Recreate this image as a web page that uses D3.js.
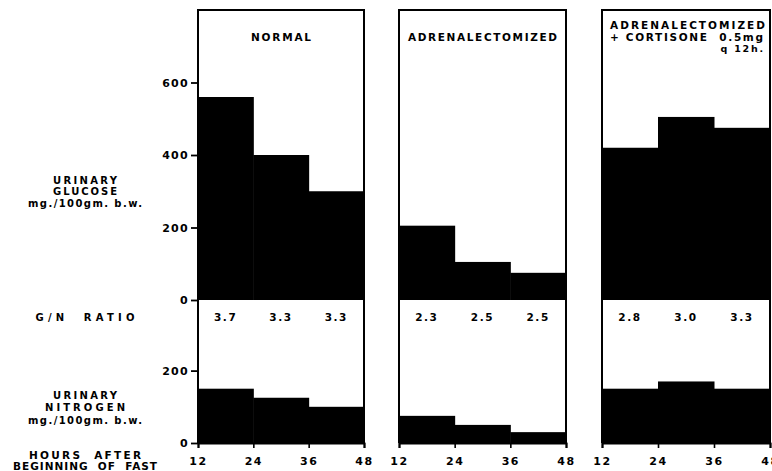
<!DOCTYPE html>
<html>
<head>
<meta charset="utf-8">
<script src="https://cdn.jsdelivr.net/npm/d3@7"></script>
<style>
  html, body { margin: 0; padding: 0; background: #fff; }
  svg text { font-family: "DejaVu Sans", "Liberation Sans", sans-serif; font-weight: bold; fill: #000; }
</style>
</head>
<body>
<svg id="chart" width="772" height="471"></svg>
<script>
// Hours after the beginning of the fast (bin edges)
const hours = [12, 24, 36, 48];

// Group titles (one line per entry)
const titleNormal = ["NORMAL"];
const titleAdx = ["ADRENALECTOMIZED"];
const titleCort = ["ADRENALECTOMIZED", "+ CORTISONE  0.5mg", "q 12h."];

// Urinary glucose, mg./100gm. b.w., per 12-hour period
const glucoseNormal = [560, 400, 300];
const glucoseAdx = [205, 105, 75];
const glucoseCort = [420, 505, 475];

// Urinary nitrogen, mg./100gm. b.w., per 12-hour period
const nitrogenNormal = [150, 125, 100];
const nitrogenAdx = [75, 50, 30];
const nitrogenCort = [150, 170, 150];

// G/N ratio per period
const ratioNormal = ["3.7", "3.3", "3.3"];
const ratioAdx = ["2.3", "2.5", "2.5"];
const ratioCort = ["2.8", "3.0", "3.3"];

// Axis tick values
const glucoseTicks = [0, 200, 400, 600];
const nitrogenTicks = [0, 200];

const svg = d3.select("#chart");

const frameTop = 10, glucoseBase = 300, frameBottom = 443;
const yG = d3.scaleLinear().domain([0, 800]).range([glucoseBase, frameTop]);
const yN = d3.scaleLinear().domain([0, 200]).range([frameBottom, 370.6]);

const panels = [
  { x0: 198, x1: 364, title: titleNormal, glucose: glucoseNormal, nitrogen: nitrogenNormal, ratio: ratioNormal, titleW: 60 },
  { x0: 399, x1: 566, title: titleAdx, glucose: glucoseAdx, nitrogen: nitrogenAdx, ratio: ratioAdx, titleW: 149 },
  { x0: 602, x1: 770, title: titleCort, glucose: glucoseCort, nitrogen: nitrogenCort, ratio: ratioCort, titleW: 155 }
];

panels.forEach(p => {
  const x = d3.scaleLinear().domain([12, 48]).range([p.x0, p.x1]);
  const g = svg.append("g");

  const periods = d3.range(3).map(i => ({ a: hours[i], b: hours[i + 1], i }));

  // glucose bars
  g.selectAll("rect.glu").data(periods).join("rect")
    .attr("class", "glu")
    .attr("x", d => x(d.a)).attr("width", d => x(d.b) - x(d.a) + 0.5)
    .attr("y", d => yG(p.glucose[d.i])).attr("height", d => yG(0) - yG(p.glucose[d.i]))
    .attr("fill", "#000");

  // nitrogen bars
  g.selectAll("rect.nit").data(periods).join("rect")
    .attr("class", "nit")
    .attr("x", d => x(d.a)).attr("width", d => x(d.b) - x(d.a) + 0.5)
    .attr("y", d => yN(p.nitrogen[d.i])).attr("height", d => yN(0) - yN(p.nitrogen[d.i]))
    .attr("fill", "#000");

  // G/N ratio values
  g.selectAll("text.ratio").data(periods).join("text")
    .attr("class", "ratio")
    .attr("x", d => x((d.a + d.b) / 2))
    .attr("y", 321)
    .attr("text-anchor", "middle")
    .attr("font-size", 10.5)
    .attr("letter-spacing", 1.6)
    .text(d => p.ratio[d.i]);

  // frame
  g.append("path")
    .attr("d", `M${p.x0},${frameBottom}V${frameTop}H${p.x1}V${frameBottom}`)
    .attr("fill", "none").attr("stroke", "#000").attr("stroke-width", 2);

  // time axis
  const ax = d3.axisBottom(x).tickValues(hours).tickSize(5).tickPadding(9).tickFormat(d3.format("d"));
  const axG = g.append("g").attr("transform", `translate(0,${frameBottom})`).call(ax);
  axG.select(".domain").attr("stroke", "#000").attr("stroke-width", 2);
  axG.selectAll(".tick line").attr("stroke", "#000").attr("stroke-width", 1.6);
  axG.selectAll(".tick text").attr("font-size", 11).attr("letter-spacing", 1.5)
    .attr("font-family", "DejaVu Sans").attr("font-weight", "bold").attr("fill", "#000");

  // titles
  if (p.title.length === 1) {
    g.append("text").attr("x", (p.x0 + p.x1) / 2).attr("y", 41)
      .attr("text-anchor", "middle").attr("font-size", 10.5)
      .attr("textLength", p.titleW).attr("lengthAdjust", "spacing")
      .text(p.title[0]);
  } else {
    g.append("text").attr("x", p.x0 + 8).attr("y", 29)
      .attr("font-size", 10.5).attr("textLength", p.titleW).attr("lengthAdjust", "spacing")
      .text(p.title[0]);
    g.append("text").attr("x", p.x0 + 8).attr("y", 41)
      .attr("font-size", 10.5).attr("textLength", p.titleW - 2).attr("lengthAdjust", "spacing")
      .attr("xml:space", "preserve").text(p.title[1]);
    g.append("text").attr("x", p.x1 - 5).attr("y", 52).attr("text-anchor", "end")
      .attr("font-size", 9.5).attr("letter-spacing", 1.8).text(p.title[2]);
  }
});

// value axes on the first panel
const leftX = panels[0].x0;
const gAx = d3.axisLeft(yG).tickValues(glucoseTicks).tickSize(7).tickPadding(2).tickFormat(d3.format("d"));
const nAx = d3.axisLeft(yN).tickValues(nitrogenTicks).tickSize(7).tickPadding(2).tickFormat(d3.format("d"));
[gAx, nAx].forEach(a => {
  const ag = svg.append("g").attr("transform", `translate(${leftX},0)`).call(a);
  ag.select(".domain").remove();
  ag.selectAll(".tick line").attr("stroke", "#000").attr("stroke-width", 1.8);
  ag.selectAll(".tick text").attr("font-size", 11).attr("letter-spacing", 1.3)
    .attr("font-family", "DejaVu Sans").attr("font-weight", "bold").attr("fill", "#000");
});

// row labels on the left: [text, baseline y, width, font size]
const rowLabels = [
  ["URINARY", 184, 64, 10],
  ["GLUCOSE", 195, 64, 10],
  ["mg./100gm. b.w.", 207, 114, 10],
  ["G/N  RATIO", 321, 99, 10],
  ["URINARY", 399, 64, 10],
  ["NITROGEN", 411, 80, 10],
  ["mg./100gm. b.w.", 424, 114, 10],
  ["HOURS  AFTER", 459, 112, 10.5],
  ["BEGINNING  OF  FAST", 470, 144, 10.5]
];
rowLabels.forEach(([t, y, w, fs]) => {
  svg.append("text").attr("x", 85).attr("y", y).attr("text-anchor", "middle")
    .attr("font-size", fs).attr("textLength", w).attr("lengthAdjust", "spacing")
    .attr("xml:space", "preserve").text(t);
});
</script>
</body>
</html>
